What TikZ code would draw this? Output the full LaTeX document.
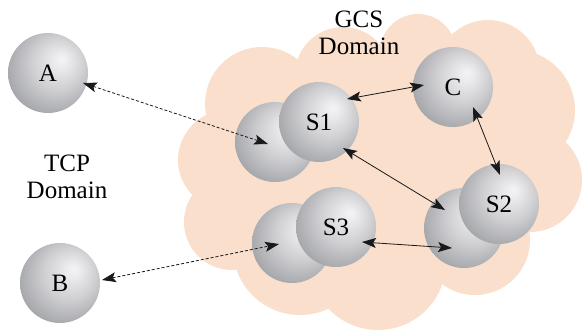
\documentclass[tikz,border=0pt]{standalone}
\usepackage{fontspec}
\setmainfont{LiberationSerif}[Extension=.ttf, UprightFont=*-Regular, BoldFont=*-Bold]
\newfontfamily\labelface{LiberationSerif}[Extension=.ttf, UprightFont=*-Regular]
\usetikzlibrary{arrows.meta,calc}

\definecolor{cloudfill}{RGB}{249,223,204}
\definecolor{sphhl}{RGB}{244,244,246}
\definecolor{sphhlb}{RGB}{234,234,236}
\definecolor{sphmid}{RGB}{208,208,211}
\definecolor{sphdk}{RGB}{172,173,177}
\definecolor{sphedge}{RGB}{140,141,146}

% grey sphere, highlight towards the upper right
\pgfdeclareradialshading{sphere}{\pgfqpoint{9bp}{9bp}}{%
  color(0bp)=(sphhl); color(5bp)=(sphhlb); color(16bp)=(sphmid);
  color(28bp)=(sphdk); color(38bp)=(sphedge); color(50bp)=(sphedge)}

\tikzset{
  ball/.style={circle, minimum size=80pt, inner sep=0pt, shade, shading=sphere,
    font=\labelface\fontsize{25}{27}\selectfont},
  domainlabel/.style={align=center, font=\labelface\fontsize{25}{27}\selectfont},
  link/.style={line width=0.8pt, black!90,
    {Stealth[length=14pt,width=10pt,inset=3pt]}-{Stealth[length=14pt,width=10pt,inset=3pt]}},
  tcplink/.style={link, dash pattern=on 3pt off 2pt},
}

\begin{document}
\begin{tikzpicture}[x=1pt,y=1pt]
\useasboundingbox (0,0) rectangle (582,-330);

% GCS cloud as a union of discs
\begin{scope}
  \clip (0,0) rectangle (582,-330);
  \fill[cloudfill]
    (228,-160) circle[radius=50pt]
    (232,-222) circle[radius=48pt]
    (262,-104) circle[radius=57pt]
    (343,-75)  circle[radius=48pt]
    (418,-52)  circle[radius=38pt]
    (488,-72)  circle[radius=52pt]
    (515,-110) circle[radius=60pt]
    (530,-180) circle[radius=52pt]
    (475,-240) circle[radius=55pt]
    (378,-262) circle[radius=68pt]
    (300,-248) circle[radius=67pt]
    (390,-165) circle[radius=110pt]
    (300,-180) circle[radius=70pt]
    (480,-150) circle[radius=70pt];
\end{scope}

\node[domainlabel] (gcs) at (359,-33) {GCS\\Domain};
\node[domainlabel] (tcp) at (67,-177) {TCP\\Domain};

% hosts and servers
\node[ball] (A) at (48,-73) {A};
\node[ball] (B) at (60,-283) {B};
\node[ball] (C) at (453,-87) {C};
\node[ball] (S1b) at (275,-142) {};
\node[ball] (S1) at (319,-122) {S1};
\node[ball] (S3b) at (292,-243) {};
\node[ball] (S3) at (336,-227) {S3};
\node[ball] (S2b) at (464,-228) {};
\node[ball] (S2) at (499,-204) {S2};

% TCP connections
\draw[tcplink] ($(A.center)+(35,-10)$) -- ($(S1b.center)+(-7,-2)$);
\draw[tcplink] ($(B.center)+(42,3)$) -- ($(S3b.center)+(-13,-1)$);

% GCS connections
\draw[link] ($(S1.center)+(28,23)$) -- ($(C.center)+(-29,2)$);
\draw[link] ($(S1.center)+(24,-26)$) -- ($(S2b.center)+(-19,18)$);
\draw[link] ($(S3.center)+(26,-15)$) -- ($(S2b.center)+(-12,-20)$);
\draw[link] ($(C.center)+(20,-20)$) -- ($(S2.center)+(1,29)$);
\end{tikzpicture}
\end{document}
